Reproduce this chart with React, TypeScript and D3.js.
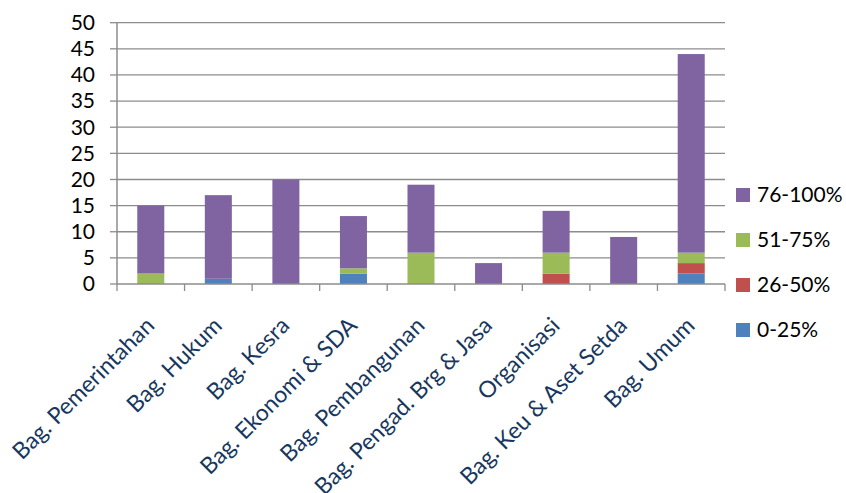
import React from "react";
import * as d3 from "d3";

const categories = [
  "Bag. Pemerintahan",
  "Bag. Hukum",
  "Bag. Kesra",
  "Bag. Ekonomi & SDA",
  "Bag. Pembangunan",
  "Bag. Pengad. Brg & Jasa",
  "Organisasi",
  "Bag. Keu & Aset Setda",
  "Bag. Umum",
];
const seriesNames = ["0-25%", "26-50%", "51-75%", "76-100%"];
const s0_25 = [0, 1, 0, 2, 0, 0, 0, 0, 2];
const s26_50 = [0, 0, 0, 0, 0, 0, 2, 0, 2];
const s51_75 = [2, 0, 0, 1, 6, 0, 4, 0, 2];
const s76_100 = [13, 16, 20, 10, 13, 4, 8, 9, 38];
const yTicks = [0, 5, 10, 15, 20, 25, 30, 35, 40, 45, 50];
const colors = ["#4F81BD", "#C0504D", "#9BBB59", "#8064A2"];

const W = 846;
const H = 493;
const left = 117;
const right = 725;
const top = 22.7;
const bottom = 284;
const FONT = "Lato, 'Open Sans', sans-serif";

export default function App() {
  const rows = categories.map((c, i) => ({
    cat: c,
    "0-25%": s0_25[i],
    "26-50%": s26_50[i],
    "51-75%": s51_75[i],
    "76-100%": s76_100[i],
  }));
  const stack = d3.stack<any>().keys(seriesNames)(rows);
  const x = d3.scaleBand().domain(categories).range([left, right]).paddingInner(0.6).paddingOuter(0.3);
  const xb = d3.scaleBand().domain(categories).range([left, right]);
  const y = d3.scaleLinear().domain([0, 50]).range([bottom, top]);

  return (
    <svg
      width={W}
      height={H}
      style={{ position: "absolute", left: 0, top: 0, background: "#fff" }}
      fontFamily={FONT}
    >
      {yTicks.map((t) => (
        <g key={t}>
          {t > 0 && (
            <line x1={left} x2={right} y1={y(t)} y2={y(t)} stroke="#8C8C8C" strokeWidth={1.3} />
          )}
          <line x1={left - 7} x2={left} y1={y(t)} y2={y(t)} stroke="#8C8C8C" strokeWidth={1.3} />
          <text x={95} y={y(t)} dy="0.35em" textAnchor="end" fontSize={21} fill="#000">
            {t}
          </text>
        </g>
      ))}
      {stack.map((s, si) =>
        s.map((d, i) => {
          const h = y(d[0]) - y(d[1]);
          if (h <= 0) return null;
          return (
            <rect
              key={si + "-" + i}
              x={x(categories[i])}
              width={x.bandwidth()}
              y={y(d[1])}
              height={h}
              fill={colors[si]}
            />
          );
        })
      )}
      <line x1={left} x2={left} y1={top} y2={bottom} stroke="#8C8C8C" strokeWidth={1.5} />
      <line x1={left} x2={right} y1={bottom} y2={bottom} stroke="#8C8C8C" strokeWidth={1.5} />
      {[...categories.map((c) => xb(c) as number), right].map((xx, i) => (
        <line key={i} x1={xx} x2={xx} y1={bottom} y2={bottom + 7} stroke="#8C8C8C" strokeWidth={1.3} />
      ))}
      {categories.map((c) => {
        const cx = (xb(c) as number) + xb.bandwidth() / 2 + 5;
        const cy = 327;
        return (
          <text
            key={c}
            transform={`translate(${cx},${cy}) rotate(-45)`}
            textAnchor="end"
            fontSize={23}
            fill="#17375E"
          >
            {c}
          </text>
        );
      })}
      {seriesNames
        .slice()
        .reverse()
        .map((n, i) => {
          const si = seriesNames.length - 1 - i;
          const cy = 195 + i * 45;
          return (
            <g key={n}>
              <rect x={736} y={cy - 7} width={14} height={14} fill={colors[si]} />
              <text x={757} y={cy} dy="0.35em" fontSize={21} fill="#000">
                {n}
              </text>
            </g>
          );
        })}
    </svg>
  );
}
